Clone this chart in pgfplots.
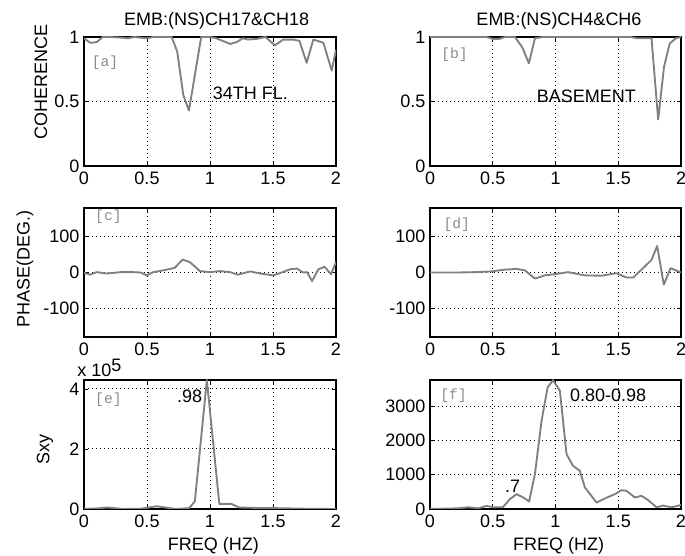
\documentclass[border=0pt]{standalone}
\usepackage{pgfplots}
\pgfplotsset{compat=1.18}
\usepackage{fontspec}
\setmainfont{Liberation Sans}
\newfontfamily\mono{Liberation Mono}
\definecolor{curve}{RGB}{128,128,128}
\definecolor{lab}{RGB}{140,140,140}
\newcommand{\fs}{\fontsize{13.5pt}{15pt}\selectfont}
\tikzset{crv/.style={color=curve, line width=1.4pt, mark=none, line join=round}}
\pgfplotsset{
  panel/.style={
    scale only axis, anchor=south west,
    width=189pt, height=96.75pt,
    xmin=0, xmax=2,
    xtick={0,0.5,1,1.5,2}, xticklabels={0,0.5,1,1.5,2},
    xmajorgrids=true, ymajorgrids=true,
    grid style={black, line width=0.75pt, dash pattern=on 0.75pt off 2.25pt},
    major grid style={black, line width=0.75pt, dash pattern=on 0.75pt off 2.25pt},
    axis line style={black, line width=0.9pt},
    tick style={black, line width=0.6pt},
    major tick length=3pt, tick align=inside,
    ticklabel style={font=\fs},
    xticklabel style={yshift=-1pt},
    scaled ticks=false,
  },
}
\begin{document}
\begin{tikzpicture}
% (a)
\begin{axis}[panel, at={(63pt,292.5pt)}, ymin=0, ymax=1, ytick={0,0.5,1}, yticklabels={0,0.5,1}]
\addplot[crv] coordinates {(0,0.99) (0.05,0.955) (0.1,0.96) (0.15,1) (0.2,1) (0.3,0.995) (0.35,0.99) (0.4,1) (0.5,0.99) (0.55,1) (0.65,1) (0.696,1) (0.74,0.886) (0.788,0.55) (0.833,0.43) (0.93,1) (1.0,1) (1.05,0.99) (1.1,0.97) (1.16,0.946) (1.21,0.96) (1.26,0.99) (1.3,0.98) (1.37,0.985) (1.44,1) (1.516,0.935) (1.58,0.98) (1.66,0.98) (1.71,0.97) (1.767,0.80) (1.82,0.98) (1.9,0.955) (1.966,0.74) (2.0,0.9)};
\node[anchor=west, font=\mono\fontsize{11pt}{12pt}\selectfont, text=lab, inner sep=0pt] at (axis cs:0.06,0.80) {[a]};
\node[anchor=west, font=\fs, inner sep=0pt] at (axis cs:1.02,0.56) {34TH FL.};
\end{axis}
% (b)
\begin{axis}[panel, at={(322.5pt,292.5pt)}, width=188.25pt, ymin=0, ymax=1, ytick={0,0.5,1}, yticklabels={0,0.5,1}]
\addplot[crv] coordinates {(0,1) (0.45,1) (0.5,0.985) (0.55,0.985) (0.6,1) (0.677,1) (0.735,0.92) (0.788,0.796) (0.836,0.99) (0.9,1) (1.6,1) (1.65,0.99) (1.72,0.99) (1.765,0.99) (1.818,0.36) (1.865,0.77) (1.91,0.95) (1.96,0.99) (2.0,1)};
\node[anchor=west, font=\mono\fontsize{11pt}{12pt}\selectfont, text=lab, inner sep=0pt] at (axis cs:0.088,0.86) {[b]};
\node[anchor=west, font=\fs, inner sep=0pt] at (axis cs:0.85,0.54) {BASEMENT};
\end{axis}
% (c)
\begin{axis}[panel, at={(63pt,164.25pt)}, ymin=-180, ymax=180, ytick={-100,0,100}, yticklabels={-100,0,100}]
\addplot[crv] coordinates {(0,-1) (0.048,-6) (0.1,1) (0.18,-3) (0.29,1) (0.39,1) (0.45,0) (0.497,-8) (0.55,1) (0.63,6) (0.72,13) (0.783,36) (0.84,29) (0.92,4) (1.0,1) (1.08,4) (1.16,1) (1.22,-6) (1.32,3) (1.40,-3) (1.50,-8) (1.57,0) (1.635,9) (1.69,11) (1.74,0) (1.77,1) (1.81,-24) (1.86,9) (1.91,16) (1.96,-5) (2.0,29)};
\node[anchor=west, font=\mono\fontsize{11pt}{12pt}\selectfont, text=lab, inner sep=0pt] at (axis cs:0.087,156) {[c]};
\end{axis}
% (d)
\begin{axis}[panel, at={(322.5pt,164.25pt)}, width=188.25pt, ymin=-180, ymax=180, ytick={-100,0,100}, yticklabels={-100,0,100}]
\addplot[crv] coordinates {(0,0) (0.225,0) (0.36,1) (0.49,3) (0.597,8) (0.69,10) (0.756,6) (0.836,-17) (0.915,-8) (1.008,-4) (1.1,1) (1.234,-8) (1.366,-9) (1.486,-2) (1.566,-14) (1.62,-14) (1.685,8) (1.765,35) (1.81,74) (1.863,-34) (1.917,12) (2.0,0)};
\node[anchor=west, font=\mono\fontsize{11pt}{12pt}\selectfont, text=lab, inner sep=0pt] at (axis cs:0.106,132) {[d]};
\end{axis}
% (e)
\begin{axis}[panel, at={(63pt,35.25pt)}, ymin=0, ymax=4.3, ytick={0,2,4}, yticklabels={0,2,4}]
\addplot[crv] coordinates {(0,0) (0.1,0.02) (0.19,0.05) (0.31,0) (0.45,0.01) (0.577,0.09) (0.73,0) (0.836,0.03) (0.88,0.26) (0.975,4.3) (1.074,0.17) (1.17,0.17) (1.23,0.05) (1.42,0.03) (1.50,0.03) (1.75,0.01) (2.0,0)};
\node[anchor=west, font=\mono\fontsize{11pt}{12pt}\selectfont, text=lab, inner sep=0pt] at (axis cs:0.087,3.65) {[e]};
\node[anchor=west, font=\fs, inner sep=0pt] at (axis cs:0.736,3.77) {.98};
\end{axis}
% (f)
\begin{axis}[panel, at={(322.5pt,35.25pt)}, width=188.25pt, ymin=0, ymax=3770, ytick={0,1000,2000,3000}, yticklabels={0,1000,2000,3000}]
\addplot[crv] coordinates {(0,0) (0.225,20) (0.305,50) (0.385,20) (0.45,90) (0.504,50) (0.58,50) (0.637,290) (0.69,433) (0.743,336) (0.79,220) (0.836,1020) (0.889,2580) (0.937,3550) (0.98,3766) (1.035,3455) (1.088,1600) (1.14,1260) (1.194,1115) (1.234,630) (1.327,190) (1.41,336) (1.473,433) (1.526,550) (1.566,530) (1.632,336) (1.685,385) (1.738,260) (1.805,50) (1.858,100) (1.924,50) (2.0,115)};
\node[anchor=west, font=\mono\fontsize{11pt}{12pt}\selectfont, text=lab, inner sep=0pt] at (axis cs:0.08,3310) {[f]};
\node[anchor=west, font=\fs, inner sep=0pt] at (axis cs:1.115,3310) {0.80-0.98};
\node[anchor=west, font=\fs, inner sep=0pt] at (axis cs:0.597,658) {.7};
\end{axis}
% titles and labels
\node[anchor=base, font=\fs] at (162.4pt,397.5pt) {EMB:(NS)CH17\&CH18};
\node[anchor=base, font=\fs] at (419.25pt,397.5pt) {EMB:(NS)CH4\&CH6};
\node[rotate=90, font=\fs] at (30.75pt,355.5pt) {COHERENCE};
\node[rotate=90, font=\fs] at (18.75pt,215.6pt) {PHASE(DEG.)};
\node[rotate=90, font=\fs] at (33.75pt,79.9pt) {Sxy};
\node[anchor=base west, font=\fs, inner sep=0pt] at (57.75pt,134.25pt) {x 10\raisebox{0.6ex}{\fs 5}};
\node[anchor=base, font=\fs] at (160pt,3.75pt) {FREQ (HZ)};
\node[anchor=base, font=\fs] at (418.9pt,3.75pt) {FREQ (HZ)};
\pgfresetboundingbox
\path (0,0) rectangle (513.75pt,417pt);
\end{tikzpicture}
\end{document}
